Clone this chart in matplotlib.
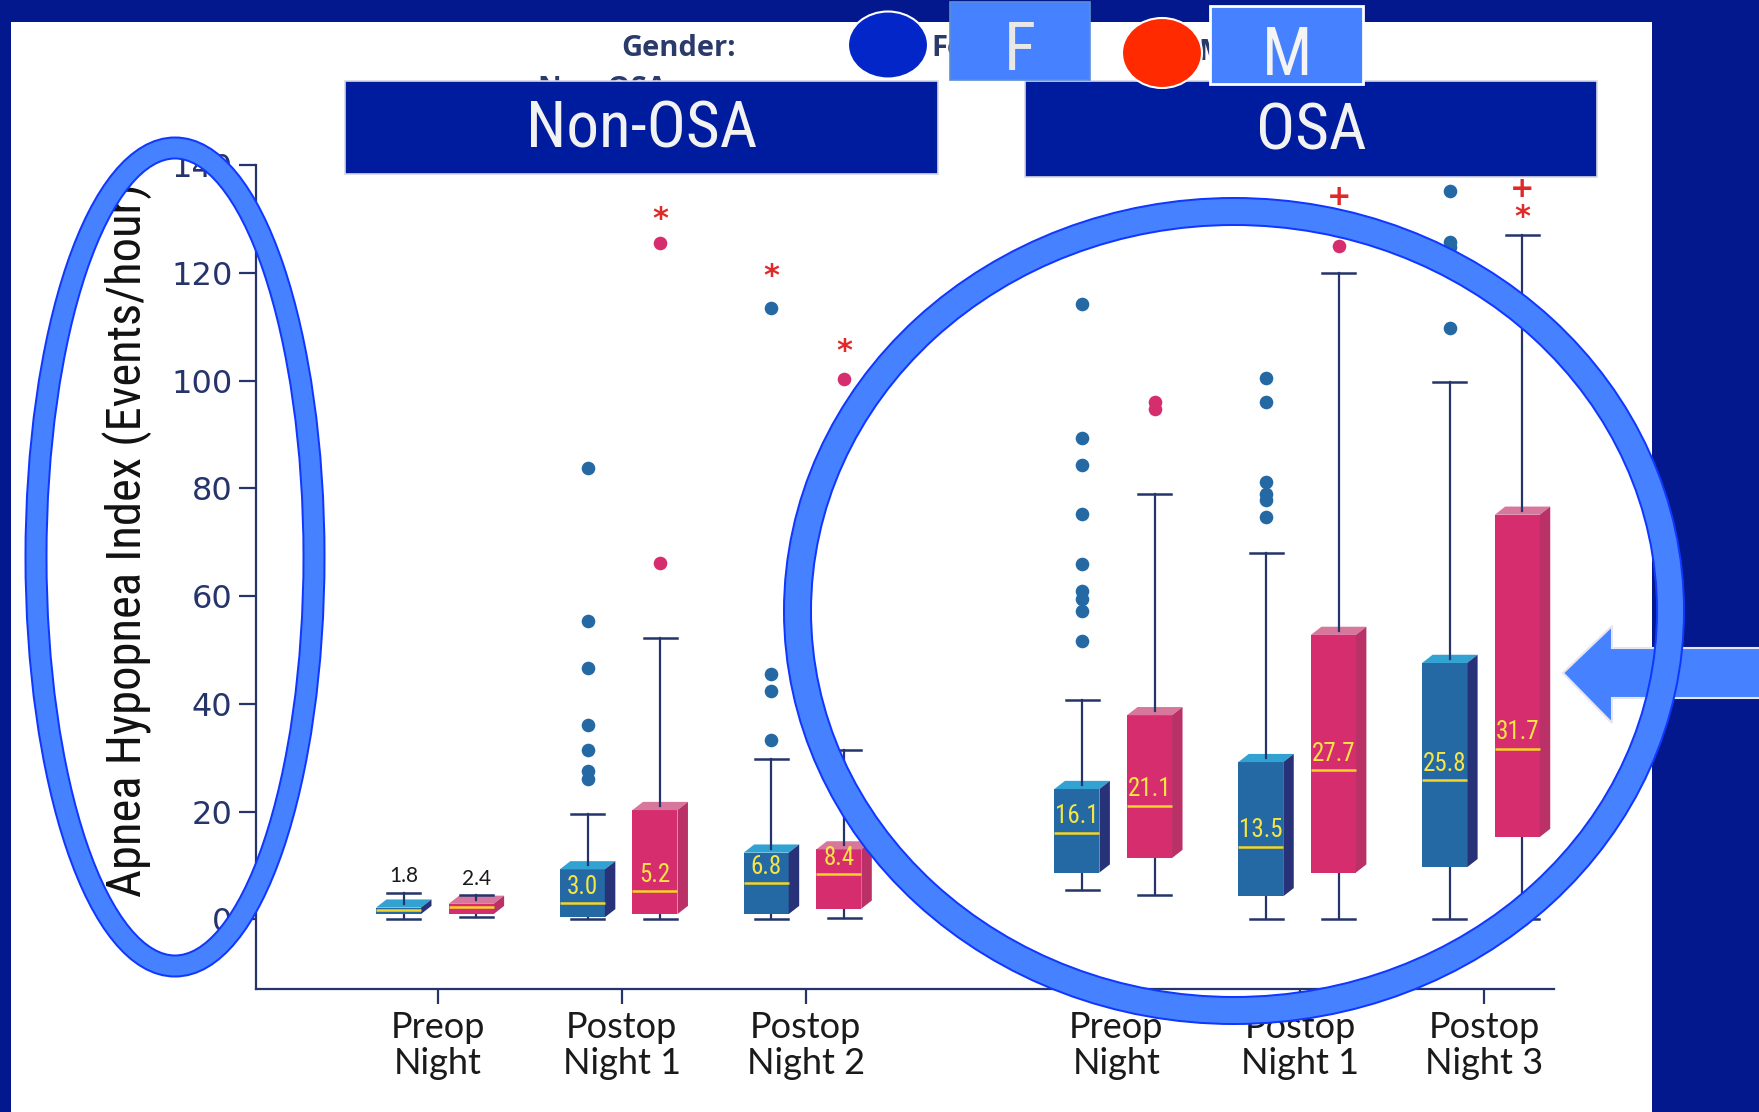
import matplotlib
matplotlib.use('Agg')
import matplotlib.pyplot as plt
from matplotlib.patches import Rectangle, Polygon, Ellipse
from matplotlib import font_manager

W, H = 1759, 1112

# nights, two cohorts side by side
nights = ['Preop\nNight', 'Postop\nNight 1', 'Postop\nNight 2',
          'Preop\nNight', 'Postop\nNight 1', 'Postop\nNight 3']
night_x = [0, 1, 2, 3.69, 4.69, 5.69]

# female AHI summaries
f_med = [1.8, 3.0, 6.8, 16.1, 13.5, 25.8]
f_q1 = [1.0, 0.4, 1.0, 8.7, 4.3, 9.7]
f_q3 = [2.2, 9.3, 12.4, 24.2, 29.2, 47.6]
f_lo = [0.0, 0.0, 0.0, 5.4, 0.0, 0.0]
f_hi = [5.0, 19.5, 29.8, 40.8, 68.0, 99.8]
f_out = [[],
         [83.8, 55.4, 46.7, 36.0, 31.5, 27.5, 26.1],
         [113.5, 45.6, 42.4, 33.3],
         [114.2, 89.3, 84.3, 75.3, 66.0, 60.9, 59.4, 57.3, 51.6],
         [100.4, 96.1, 81.2, 79.0, 77.8, 74.6],
         [135.1, 125.8, 124.8, 109.8]]

# male AHI summaries
m_med = [2.4, 5.2, 8.4, 21.1, 27.7, 31.7]
m_q1 = [1.0, 1.0, 2.0, 11.4, 8.7, 15.3]
m_q3 = [2.9, 20.3, 13.0, 37.9, 52.8, 75.1]
m_lo = [0.5, 0.0, 0.2, 4.6, 0.0, 0.0]
m_hi = [4.5, 52.2, 31.5, 78.9, 120.0, 127.0]
m_out = [[], [125.6, 66.2], [100.2], [96.0, 94.8], [124.9], []]

# significance marks: (night index, sex, symbol, y)
sig_marks = [(1, 'M', '*', 129.8), (2, 'F', '*', 119.4), (2, 'M', '*', 105.4),
             (4, 'M', '+', 134.0), (5, 'M', '+', 135.6), (5, 'M', '*', 130.2)]

NAVY = '#25346b'
DARK_BG = '#02188c'
YELLOW = '#f5d428'
F_COLS = ('#2469a3', '#31a2d2', '#283279')
M_COLS = ('#d62d6e', '#d8779c', '#b93166')
RING = '#4682ff'
RING_EDGE = '#1037ff'

# narrow face for headers, axis title and box labels
names = {f.name for f in font_manager.fontManager.ttflist}
narrow_kw = {'family': ['DejaVu Sans'], 'stretch': 'condensed'}
for cand in ('Liberation Sans Narrow', 'Roboto Condensed', 'Open Sans Condensed'):
    if cand in names:
        narrow_kw = {'family': [cand, 'DejaVu Sans']}
        break
LATO = ['Lato', 'DejaVu Sans']
OPEN = ['Open Sans', 'DejaVu Sans']

fig = plt.figure(figsize=(W / 100, H / 100), dpi=100, facecolor=DARK_BG)

# background layer in pixel coordinates
bg = fig.add_axes([0, 0, 1, 1], zorder=0)
bg.set_xlim(0, W)
bg.set_ylim(H, 0)
bg.axis('off')
bg.add_patch(Rectangle((11, 22), 1652 - 11, H - 22, fc='white', ec='none'))

# chart axes
left, right, top, bottom = 256, 1554, 165, 989
ax = fig.add_axes([left / W, 1 - bottom / H, (right - left) / W, (bottom - top) / H],
                  zorder=1)
ax.patch.set_alpha(0)
XL = (-0.99, 6.07)
YL = (-12.9, 140)
ax.set_xlim(*XL)
ax.set_ylim(*YL)
for s in ('top', 'right'):
    ax.spines[s].set_visible(False)
for s in ('left', 'bottom'):
    ax.spines[s].set_color(NAVY)
    ax.spines[s].set_linewidth(1.6)

ax.set_yticks(range(0, 141, 20))
ax.tick_params(axis='y', length=12, width=1.6, color=NAVY, labelcolor=NAVY,
               labelsize=23, pad=5)
ax.set_xticks(night_x)
ax.set_xticklabels(nights, fontsize=26, family=LATO, linespacing=1.1,
                   color='#1a1a1a')
ax.tick_params(axis='x', length=11, width=1.6, color=NAVY, pad=5)
ax.set_ylabel('Apnea Hypopnea Index (Events/hour)', fontsize=35, color='#111111',
              **narrow_kw)
ax.yaxis.set_label_coords(-0.08, 0.545)

# box geometry in data units
px_x = (right - left) / (XL[1] - XL[0])
px_y = (bottom - top) / (YL[1] - YL[0])
BOX_W = 45 / px_x
DX = 10.5 / px_x
DY = 8.2 / px_y
CAP = 33 / px_x


def draw_box(xc, lo, q1, med, q3, hi, pts, cols, label_inside):
    front, topc, side = cols
    x0 = xc - BOX_W / 2
    ax.add_patch(Rectangle((x0, q1), BOX_W, q3 - q1, fc=front, ec='none', zorder=3))
    ax.add_patch(Polygon([(x0, q3), (x0 + BOX_W, q3), (x0 + BOX_W + DX, q3 + DY),
                          (x0 + DX, q3 + DY)], closed=True, fc=topc, ec='none', zorder=3))
    ax.add_patch(Polygon([(x0 + BOX_W, q1), (x0 + BOX_W + DX, q1 + DY),
                          (x0 + BOX_W + DX, q3 + DY), (x0 + BOX_W, q3)],
                         closed=True, fc=side, ec='none', zorder=3))
    wx = xc + DX / 2
    ax.plot([wx, wx], [q3 + DY / 2, hi], color=NAVY, lw=1.6, zorder=4)
    ax.plot([wx - CAP / 2, wx + CAP / 2], [hi, hi], color=NAVY, lw=1.8, zorder=4)
    ax.plot([wx, wx], [lo, q1], color=NAVY, lw=1.6, zorder=2)
    ax.plot([wx - CAP / 2, wx + CAP / 2], [lo, lo], color=NAVY, lw=1.8, zorder=2)
    ax.plot([x0, x0 + BOX_W], [med, med], color=YELLOW, lw=1.8, zorder=4,
            solid_capstyle='butt')
    if pts:
        ax.plot([wx] * len(pts), pts, 'o', ms=9.8, mfc=front, mec='none', zorder=4)
    if label_inside:
        ax.text(xc, med + 0.8, f'{med:.1f}', ha='center', va='bottom', color='#f6e545',
                fontsize=18, zorder=5, **narrow_kw)
    else:
        ax.text(wx, hi + 1.2, f'{med:.1f}', ha='center', va='bottom', color='#1a1a1a',
                fontsize=15, family=LATO, zorder=5)
    return wx


wxs = {}
for i, xc in enumerate(night_x):
    inside = i != 0
    wxs[(i, 'F')] = draw_box(xc - 0.215, f_lo[i], f_q1[i], f_med[i], f_q3[i], f_hi[i],
                             f_out[i], F_COLS, inside)
    wxs[(i, 'M')] = draw_box(xc + 0.18, m_lo[i], m_q1[i], m_med[i], m_q3[i], m_hi[i],
                             m_out[i], M_COLS, inside)

for i, sex, sym, yv in sig_marks:
    ax.text(wxs[(i, sex)], yv, sym, ha='center', va='center', color='#e02a2a',
            fontsize=22 if sym == '*' else 21, fontweight='bold', zorder=5)

# overlay layer: headers, legend and callouts
ov = fig.add_axes([0, 0, 1, 1], zorder=2)
ov.set_xlim(0, W)
ov.set_ylim(H, 0)
ov.axis('off')

ov.text(606, 75, 'Non-OSA:', ha='center', va='top', fontsize=21, fontweight='bold',
        color='#2a3a6a', family=OPEN, zorder=1)
for (x0, x1, y0, y1, label) in [(345, 938, 81, 174, 'Non-OSA'),
                                (1025, 1597, 81, 177, 'OSA')]:
    ov.add_patch(Rectangle((x0, y0), x1 - x0, y1 - y0, fc='#001c9e', ec='#d8d8e4',
                           lw=1.2, zorder=2))
    ov.text((x0 + x1) / 2, (y0 + y1) / 2 + 2, label, ha='center', va='center',
            color='#f2f2f2', fontsize=47, zorder=3, **narrow_kw)

ov.text(679, 49, 'Gender:', ha='center', va='center', fontsize=21, fontweight='bold',
        color='#2a3a6a', family=OPEN, zorder=2)
ov.add_patch(Ellipse((888, 45), 80, 67, fc='#0326c8', ec='white', lw=1.5, zorder=3))
ov.text(931, 49, 'Female', ha='left', va='center', fontsize=21, fontweight='bold',
        color='#2a3a6a', family=OPEN, zorder=2)
ov.add_patch(Ellipse((1162, 53), 80, 70, fc='#ff2a00', ec='white', lw=1.5, zorder=3))
ov.text(1198, 52, 'Male', ha='left', va='center', fontsize=21, fontweight='bold',
        color='#2a3a6a', family=OPEN, zorder=2)
ov.add_patch(Rectangle((950, 2), 140, 78, fc=RING, ec='#5b8fd4', lw=1.2, zorder=4))
ov.text(1020, 52, 'F', ha='center', va='center', fontsize=48, color='#e8e8e8',
        zorder=5, **narrow_kw)
ov.add_patch(Rectangle((1210, 6), 153, 78, fc=RING, ec='white', lw=2, zorder=4))
ov.text(1287, 57, 'M', ha='center', va='center', fontsize=48, color='#f4f4f4',
        zorder=5, **narrow_kw)

# pointer arrow on the right
ov.add_patch(Polygon([(1563, 673), (1612, 626), (1612, 648), (1765, 648), (1765, 698),
                      (1612, 698), (1612, 723)], closed=True, fc=RING, ec='#e6e6ee',
                     lw=1.5, zorder=4))

# highlight rings
for (cx, cy, ew, eh, thick) in [(175, 557, 278, 818, 19), (1234, 611, 873, 799, 25)]:
    ov.add_patch(Ellipse((cx, cy), ew, eh, fill=False, ec=RING_EDGE,
                         lw=(thick + 4) * 0.72, zorder=6))
    ov.add_patch(Ellipse((cx, cy), ew, eh, fill=False, ec=RING,
                         lw=thick * 0.72, zorder=7))

fig.savefig('out.png', dpi=100, facecolor=fig.get_facecolor())
